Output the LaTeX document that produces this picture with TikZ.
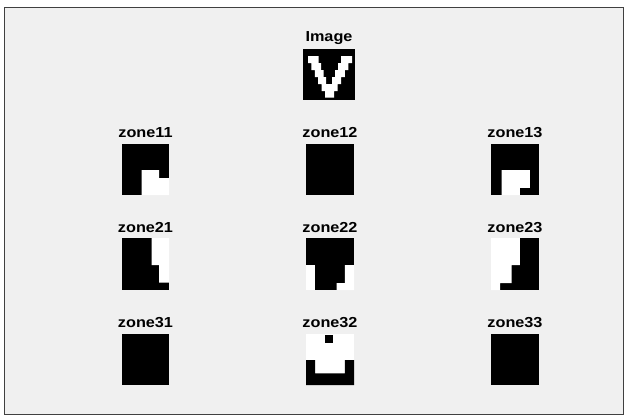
\documentclass[tikz,border=0pt]{standalone}
\usepackage{fontspec}
\newfontfamily\labfont[FakeStretch=1.12]{Liberation Sans}
\definecolor{figgray}{HTML}{F0F0F0}
\definecolor{framecol}{HTML}{404040}
\begin{document}
\begin{tikzpicture}[x=1pt,y=-1pt,
  lab/.style={font=\labfont\bfseries\fontsize{14.5}{16}\selectfont, anchor=base, inner sep=0pt},
  blk/.style={fill=black},
  wht/.style={fill=white}]
\useasboundingbox (0,0) rectangle (625,416);
\fill[white] (0,0) rectangle (625,416);
\draw[fill=figgray, draw=framecol, line width=1pt] (4.5,7.5) rectangle (623.5,414.5);

% main image
\node[lab] (limg) at (329,41) {Image};
\fill[blk] (303,49) rectangle (355,100);
\fill[wht] (308,56) -- (318.5,56) -- (318.5,63) -- (321,63) -- (321,70) -- (323.5,70) -- (323.5,77)
  -- (326,77) -- (326,84) -- (332,84) -- (332,77) -- (335,77) -- (335,70) -- (338,70) -- (338,63)
  -- (341,63) -- (341,56) -- (352,56) -- (352,63) -- (348.4,63) -- (348.4,70) -- (344.8,70)
  -- (344.8,77) -- (341.2,77) -- (341.2,84) -- (337.6,84) -- (337.6,91) -- (334,91) -- (334,97.5)
  -- (325,97.5) -- (325,91) -- (321.6,91) -- (321.6,84) -- (318.2,84) -- (318.2,77) -- (314.8,77)
  -- (314.8,70) -- (311.4,70) -- (311.4,63) -- (308,63) -- cycle;

% labels
\node[lab] (l11) at (145.5,137) {zone11};
\node[lab] (l12) at (330,137) {zone12};
\node[lab] (l13) at (515,137) {zone13};
\node[lab] (l21) at (145.5,232) {zone21};
\node[lab] (l22) at (330,232) {zone22};
\node[lab] (l23) at (515,232) {zone23};
\node[lab] (l31) at (145.5,327) {zone31};
\node[lab] (l32) at (330,327) {zone32};
\node[lab] (l33) at (515,327) {zone33};

% zone11
\begin{scope}[xshift=122pt,yshift=-144pt,x=47pt,y=-51pt]
  \fill[blk] (0,0) rectangle (1,1);
  \fill[wht] (0.42,0.51) -- (0.79,0.51) -- (0.79,0.67) -- (1,0.67) -- (1,1) -- (0.42,1) -- cycle;
\end{scope}
% zone12
\begin{scope}[xshift=306pt,yshift=-144pt,x=48pt,y=-51pt]
  \fill[blk] (0,0) rectangle (1,1);
\end{scope}
% zone13
\begin{scope}[xshift=491pt,yshift=-144pt,x=48pt,y=-51pt]
  \fill[blk] (0,0) rectangle (1,1);
  \fill[wht] (0.22,0.51) -- (0.81,0.51) -- (0.81,0.86) -- (0.60,0.86) -- (0.60,1) -- (0.22,1) -- cycle;
\end{scope}
% zone21
\begin{scope}[xshift=122pt,yshift=-238pt,x=47pt,y=-52pt]
  \fill[blk] (0,0) rectangle (1,1);
  \fill[wht] (0.63,0) -- (1,0) -- (1,0.86) -- (0.79,0.86) -- (0.79,0.52) -- (0.63,0.52) -- cycle;
\end{scope}
% zone22
\begin{scope}[xshift=306pt,yshift=-238pt,x=48pt,y=-52pt]
  \fill[blk] (0,0) rectangle (1,1);
  \fill[wht] (0,0.52) -- (0.19,0.52) -- (0.19,1) -- (0,1) -- cycle;
  \fill[wht] (0.81,0.52) -- (1,0.52) -- (1,1) -- (0.64,1) -- (0.64,0.87) -- (0.81,0.87) -- cycle;
\end{scope}
% zone23
\begin{scope}[xshift=491pt,yshift=-238pt,x=48pt,y=-52pt]
  \fill[blk] (0,0) rectangle (1,1);
  \fill[wht] (0,0) -- (0.60,0) -- (0.60,0.52) -- (0.43,0.52) -- (0.43,0.87) -- (0.19,0.87) -- (0.19,1) -- (0,1) -- cycle;
\end{scope}
% zone31
\begin{scope}[xshift=122pt,yshift=-334pt,x=47pt,y=-51pt]
  \fill[blk] (0,0) rectangle (1,1);
\end{scope}
% zone32
\begin{scope}[xshift=306pt,yshift=-334pt,x=48pt,y=-51pt]
  \fill[wht] (0,0) rectangle (1,1);
  \fill[blk] (0.40,0.02) rectangle (0.57,0.18);
  \fill[blk] (0,0.51) -- (0.19,0.51) -- (0.19,0.77) -- (0.81,0.77) -- (0.81,0.51) -- (1,0.51) -- (1,1) -- (0,1) -- cycle;
\end{scope}
% zone33
\begin{scope}[xshift=491pt,yshift=-334pt,x=48pt,y=-51pt]
  \fill[blk] (0,0) rectangle (1,1);
\end{scope}
\end{tikzpicture}
\end{document}
